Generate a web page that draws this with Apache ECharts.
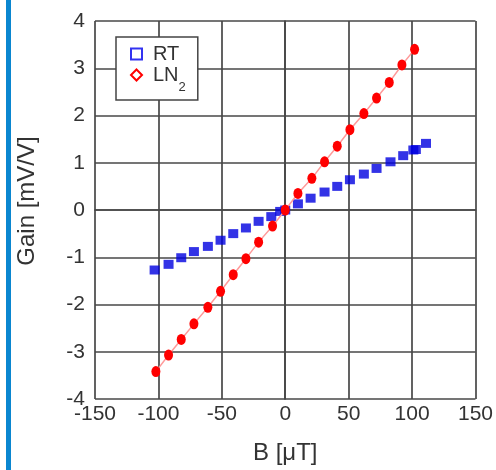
<!DOCTYPE html>
<html>
<head>
<meta charset="utf-8">
<script src="https://cdn.jsdelivr.net/npm/echarts@6/dist/echarts.min.js"></script>
<style>
  html, body { margin: 0; padding: 0; background: #fff; }
  #chart { width: 496px; height: 470px; }
</style>
</head>
<body>
<div id="chart"></div>
<script>
// RT (room temperature) points, B in uT / gain in mV/V
var rtB = [-103, -92, -82, -72, -61, -51, -41, -31, -21, -11, -4, 0, 10, 20, 31, 41, 51, 62, 72, 83, 93, 101, 103, 111];
var rtGain = [-1.27, -1.15, -1.01, -0.88, -0.77, -0.64, -0.50, -0.38, -0.24, -0.14, -0.03, 0, 0.13, 0.25, 0.38, 0.50, 0.64, 0.76, 0.88, 1.02, 1.15, 1.27, 1.28, 1.41];
// LN2 points
var lnB = [-102, -92, -82, -72, -61, -51, -41, -31, -21, -10, 0, 10, 21, 31, 41, 51, 62, 72, 82, 92, 102];
var lnGain = [-3.42, -3.07, -2.74, -2.41, -2.06, -1.72, -1.37, -1.03, -0.68, -0.34, 0, 0.35, 0.67, 1.02, 1.35, 1.70, 2.04, 2.37, 2.70, 3.07, 3.40];

function pairs(xs, ys) {
  var out = [];
  for (var i = 0; i < xs.length; i++) out.push([xs[i], ys[i]]);
  return out;
}

var chart = echarts.init(document.getElementById('chart'));
var font = 'Liberation Sans, Arial, sans-serif';
var gridColor = '#474747';

chart.setOption({
  animation: false,
  textStyle: { fontFamily: font },
  grid: { left: 95, right: 18, top: 21, bottom: 68 },
  graphic: [{
    type: 'rect',
    shape: { x: 6, y: 0, width: 5, height: 470 },
    style: { fill: '#0a86d0' }
  }],
  legend: {
    orient: 'vertical',
    left: 116,
    top: 37,
    backgroundColor: '#fff',
    borderColor: '#444',
    borderWidth: 1.5,
    borderRadius: 0,
    padding: [7, 12, 6, 14],
    itemGap: 1,
    itemWidth: 11,
    itemHeight: 11,
    data: [
      { name: 'RT', icon: 'rect', itemStyle: { color: '#fff', borderColor: '#0000ee', borderWidth: 2 } },
      { name: 'LN2', icon: 'diamond', itemStyle: { color: '#fff', borderColor: '#ff0000', borderWidth: 2 } }
    ],
    formatter: function (name) {
      return name === 'LN2' ? '{t|LN}{sub|2}' : '{t|' + name + '}';
    },
    textStyle: {
      fontFamily: font,
      fontSize: 20,
      color: '#333',
      padding: [0, 0, 0, 6],
      rich: {
        t: { fontSize: 20, lineHeight: 24, color: '#333', fontFamily: font },
        sub: { fontSize: 13, lineHeight: 13, verticalAlign: 'bottom', color: '#333', fontFamily: font, padding: [0, 0, -7, 0] }
      }
    }
  },
  xAxis: {
    type: 'value',
    min: -150, max: 150, interval: 50,
    name: 'B [\u03bcT]',
    nameLocation: 'middle',
    nameGap: 42,
    nameTextStyle: { fontSize: 24, color: '#333', fontFamily: font },
    axisLine: { lineStyle: { color: gridColor, width: 1.7 } },
    axisTick: { show: false },
    axisLabel: { fontSize: 21, color: '#333', margin: 5, fontFamily: font },
    splitLine: { lineStyle: { color: gridColor, width: 1.7 } }
  },
  yAxis: {
    type: 'value',
    min: -4, max: 4, interval: 1,
    name: 'Gain [mV/V]',
    nameLocation: 'middle',
    nameGap: 56,
    nameTextStyle: { fontSize: 24, color: '#333', fontFamily: font, padding: [0, 0, 0, 18] },
    axisLine: { lineStyle: { color: gridColor, width: 1.7 } },
    axisTick: { show: false },
    axisLabel: { fontSize: 21, color: '#333', margin: 10, fontFamily: font },
    splitLine: { lineStyle: { color: gridColor, width: 1.7 } }
  },
  series: [
    {
      name: 'RT',
      type: 'scatter',
      symbol: 'rect',
      symbolSize: [10, 9],
      itemStyle: { color: '#0000e0' },
      data: pairs(rtB, rtGain),
      z: 3
    },
    {
      name: 'LN2',
      type: 'line',
      symbol: 'circle',
      symbolSize: [9, 11],
      showAllSymbol: true,
      itemStyle: { color: '#ff0000' },
      lineStyle: { color: '#ff9a9a', width: 1.5 },
      data: pairs(lnB, lnGain),
      z: 4
    }
  ]
});
</script>
</body>
</html>
